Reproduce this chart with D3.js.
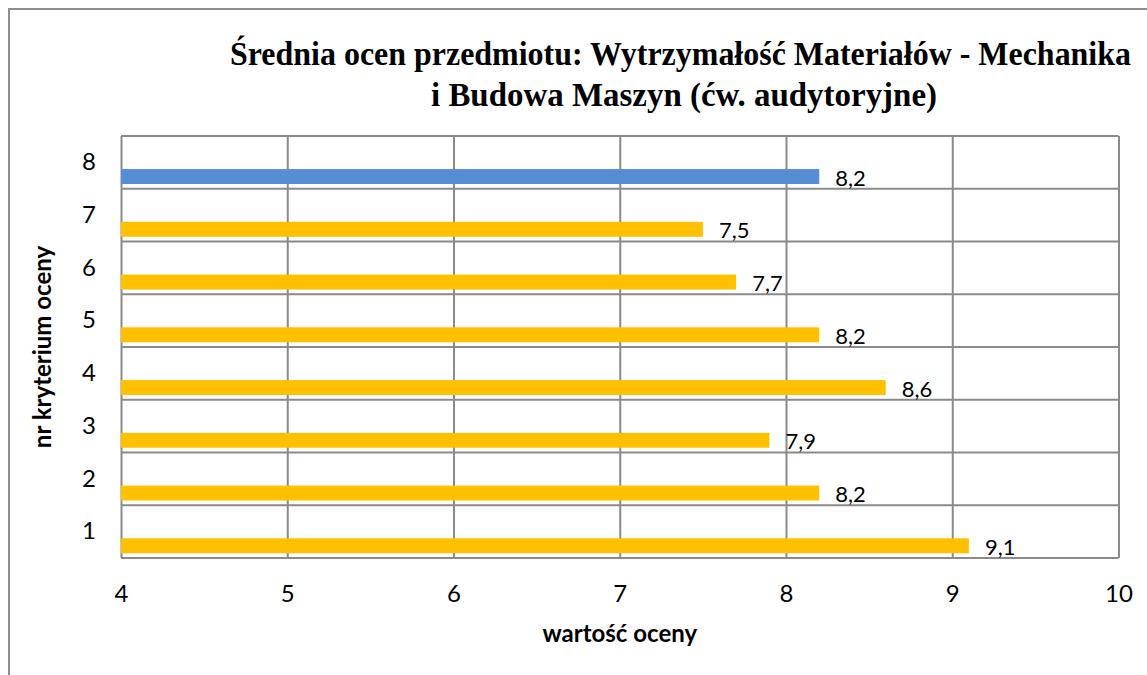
<!DOCTYPE html>
<html>
<head>
<meta charset="utf-8">
<script src="https://cdn.jsdelivr.net/npm/d3@7"></script>
<style>
  body { margin: 0; background: #fff; }
  text { font-family: Lato, "Open Sans", sans-serif; fill: #000; }
  .title { font-family: "Liberation Serif", "Times New Roman", serif; font-weight: bold; }
</style>
</head>
<body>
<script>
// data
var categories = ["1", "2", "3", "4", "5", "6", "7", "8"];
var values = [9.1, 8.2, 7.9, 8.6, 8.2, 7.7, 7.5, 8.2];
var barColors = ["#ffc000", "#ffc000", "#ffc000", "#ffc000", "#ffc000", "#ffc000", "#ffc000", "#558ed5"];
var xTicks = [4, 5, 6, 7, 8, 9, 10];
var titleLines = ["Średnia ocen przedmiotu: Wytrzymałość Materiałów - Mechanika", "i Budowa Maszyn (ćw. audytoryjne)"];
var xTitle = "wartość oceny";
var yTitle = "nr kryterium oceny";

var width = 1147, height = 675;
var plot = { left: 121, top: 136, right: 1118.5, bottom: 558 };
var gridColor = "#8a8a8a";

var pl = d3.formatLocale({ decimal: ",", thousands: " ", grouping: [3], currency: ["", " zł"] });
var fmt = pl.format(".1f");

var svg = d3.select("body").append("svg")
	.attr("width", width)
	.attr("height", height);

svg.append("rect")
	.attr("width", width).attr("height", height)
	.attr("fill", "#fff");

// outer chart border (runs off the right and bottom of the picture)
svg.append("rect")
	.attr("x", 9).attr("y", 9)
	.attr("width", width + 20).attr("height", height + 20)
	.attr("fill", "none")
	.attr("stroke", "#8e8e8e")
	.attr("stroke-width", 2);

var x = d3.scaleLinear()
	.domain([4, 10])
	.range([plot.left, plot.right]);

var y = d3.scaleBand()
	.domain(categories.slice().reverse())
	.range([plot.top, plot.bottom]);

var bw = y.bandwidth();

// vertical gridlines + x tick labels
var xAxis = svg.append("g")
	.attr("transform", "translate(0," + plot.bottom + ")")
	.call(d3.axisBottom(x).tickValues(xTicks).tickSize(-(plot.bottom - plot.top)).tickFormat(d3.format("d")));
xAxis.select(".domain").remove();
xAxis.selectAll("line").attr("stroke", gridColor).attr("stroke-width", 2);
xAxis.selectAll("text")
	.attr("font-family", "Lato, sans-serif")
	.attr("font-size", 24)
	.attr("fill", "#000")
	.attr("dy", "0")
	.attr("y", 44);

// horizontal gridlines at band edges
var edges = categories.map(function(c) { return y(c); }).concat([plot.bottom]);
svg.append("g").selectAll("line")
	.data(edges)
	.enter().append("line")
	.attr("x1", plot.left).attr("x2", plot.right)
	.attr("y1", function(d) { return d; })
	.attr("y2", function(d) { return d; })
	.attr("stroke", gridColor)
	.attr("stroke-width", 2);

// y tick labels
var yAxis = svg.append("g")
	.attr("transform", "translate(" + plot.left + ",0)")
	.call(d3.axisLeft(y).tickSize(0).tickPadding(25));
yAxis.select(".domain").remove();
yAxis.selectAll("text")
	.attr("font-family", "Lato, sans-serif")
	.attr("font-size", 24)
	.attr("fill", "#000");

// bars sit in the lower part of each band (second slot of a two-series cluster)
var barTop = 0.627, barH = 0.283;

var bars = svg.append("g").selectAll("g")
	.data(values)
	.enter().append("g")
	.attr("transform", function(d, i) { return "translate(0," + y(categories[i]) + ")"; });

bars.append("rect")
	.attr("x", x(4))
	.attr("y", bw * barTop)
	.attr("width", function(d) { return x(d) - x(4); })
	.attr("height", bw * barH)
	.attr("fill", function(d, i) { return barColors[i]; });

bars.append("text")
	.attr("x", function(d) { return x(d) + 16; })
	.attr("y", bw * (barTop + barH / 2) + 1.5)
	.attr("dy", "0.35em")
	.attr("font-size", 22)
	.text(function(d) { return fmt(d); });

// title (condensed serif, squeezed to the reference width)
svg.append("text")
	.attr("class", "title")
	.attr("x", 230).attr("y", 65)
	.attr("font-size", 33)
	.attr("textLength", 901)
	.attr("lengthAdjust", "spacingAndGlyphs")
	.text(titleLines[0]);
svg.append("text")
	.attr("class", "title")
	.attr("x", 431).attr("y", 106)
	.attr("font-size", 33)
	.attr("textLength", 506)
	.attr("lengthAdjust", "spacingAndGlyphs")
	.text(titleLines[1]);

// axis titles
svg.append("text")
	.attr("x", (plot.left + plot.right) / 2)
	.attr("y", 642)
	.attr("text-anchor", "middle")
	.attr("font-weight", "bold")
	.attr("font-size", 24)
	.text(xTitle);

svg.append("text")
	.attr("transform", "translate(51," + (plot.top + plot.bottom) / 2 + ") rotate(-90)")
	.attr("text-anchor", "middle")
	.attr("font-weight", "bold")
	.attr("font-size", 24)
	.text(yTitle);
</script>
</body>
</html>
